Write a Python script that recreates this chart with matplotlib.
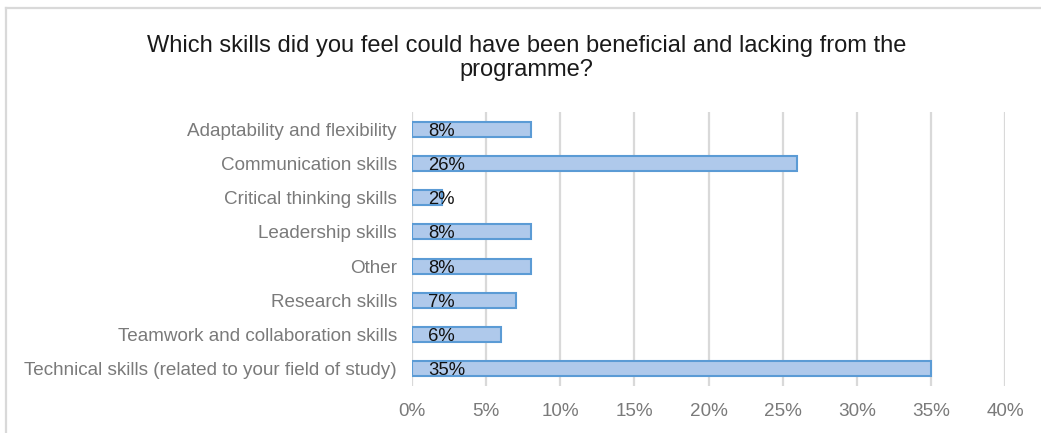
import matplotlib.pyplot as plt
from matplotlib.lines import Line2D
from matplotlib.ticker import FuncFormatter

plt.rcParams['font.family'] = ['Liberation Sans', 'DejaVu Sans']

skills = ["Adaptability and flexibility", "Communication skills",
          "Critical thinking skills", "Leadership skills", "Other",
          "Research skills", "Teamwork and collaboration skills",
          "Technical skills (related to your field of study)"]
shares = [8, 26, 2, 8, 8, 7, 6, 35]
ticks = [0, 5, 10, 15, 20, 25, 30, 35, 40]

title = ("Which skills did you feel could have been beneficial and lacking from the\n"
         "programme?")

grey = "#7a7a7a"
grid = "#D9D9D9"

fig = plt.figure(figsize=(10.41, 4.33), dpi=100)
ax = fig.add_axes([0.3958, 0.1085, 0.5696, 0.6328])

pos = list(range(len(skills)))
ax.barh(pos, shares, height=0.44, color="#AFC9EB", edgecolor="#5B9BD5",
        linewidth=1.5, zorder=3)

for y, v in zip(pos, shares):
    ax.annotate(f"{v}%", xy=(0, y), xytext=(11.5, -1.5), textcoords="offset points",
                ha="left", va="center", fontsize=13.3, color="#111111", zorder=4)

ax.set_xlim(0, 40)
ax.set_ylim(len(skills) - 0.5, -0.5)
ax.set_xticks(ticks)
ax.xaxis.set_major_formatter(FuncFormatter(lambda v, p: f"{v:.0f}%"))
ax.set_yticks(pos)
ax.set_yticklabels(skills)
ax.tick_params(axis="both", length=0, labelsize=13.6, labelcolor=grey)
ax.tick_params(axis="x", pad=12)
ax.tick_params(axis="y", pad=11)

ax.grid(axis="x", color=grid, linewidth=1.6, zorder=0)
for s in ax.spines.values():
    s.set_visible(False)

fig.text(0.506, 0.865, title, ha="center", va="center", fontsize=17,
         color="#1a1a1a", linespacing=1.12)

# outer frame, only top and left edges show
fig.add_artist(Line2D([6 / 1041, 1], [1 - 8 / 433, 1 - 8 / 433],
                      transform=fig.transFigure, color=grid, linewidth=1.6))
fig.add_artist(Line2D([6 / 1041, 6 / 1041], [0, 1 - 8 / 433],
                      transform=fig.transFigure, color=grid, linewidth=1.6))

fig.savefig("out.png", dpi=100)
